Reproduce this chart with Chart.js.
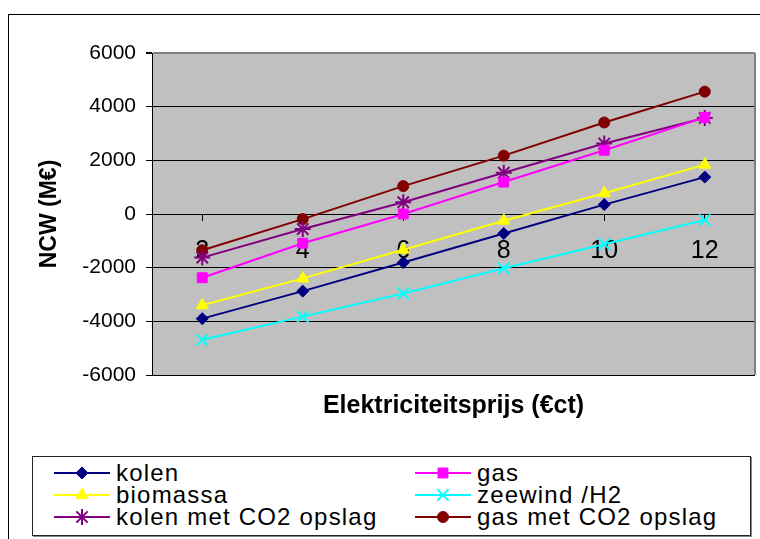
<!DOCTYPE html>
<html>
<head>
<meta charset="utf-8">
<script src="https://cdn.jsdelivr.net/npm/chart.js@4/dist/chart.umd.min.js"></script>
<style>
  body { margin: 0; background: #fff; width: 760px; height: 539px; overflow: hidden; position: relative; font-family: "Liberation Sans", Arial, sans-serif; }
  #frame { position: absolute; left: 8px; top: 14px; width: 800px; height: 600px; border-top: 1px solid #000; border-left: 1px solid #000; }
  #wrap { position: absolute; left: 9px; top: 15px; width: 756px; height: 430px; }
  #legend { position: absolute; left: 32px; top: 456px; width: 719px; height: 80px; border: 1px solid #222; box-shadow: 1px 1px 0 #888; box-sizing: border-box; }
  .item { position: absolute; height: 22px; display: flex; align-items: center; font-size: 24px; letter-spacing: 1.2px; color: #000; white-space: nowrap; }
  .item canvas { margin-right: 6px; }
</style>
</head>
<body>
<div id="frame"></div>
<div id="wrap"><canvas id="chart" width="756" height="430"></canvas></div>
<div id="legend"></div>
<script>
// prijzen op de x-as
const prijzen = ['2', '4', '6', '8', '10', '12'];

// NCW per optie (M€)
const kolen = [-3900, -2875, -1810, -725, 350, 1375];
const gas = [-2375, -1090, 0, 1190, 2375, 3600];
const biomassa = [-3400, -2400, -1330, -250, 775, 1840];
const zeewind = [-4690, -3825, -2960, -2025, -1125, -225];
const kolenCO2 = [-1625, -560, 440, 1540, 2625, 3580];
const gasCO2 = [-1350, -190, 1040, 2175, 3410, 4560];

const yTicks = [-6000, -4000, -2000, 0, 2000, 4000, 6000];

function serie(label, data, kleur, stijl, r, bw) {
    return {
        label: label,
        data: data,
        borderColor: kleur,
        backgroundColor: kleur,
        borderWidth: 2,
        pointStyle: stijl,
        pointRadius: r,
        pointBorderWidth: bw,
        tension: 0
    };
}

// grijze achtergrond van het plotgebied
const plotAchtergrond = {
    id: 'plotAchtergrond',
    beforeDraw(chart) {
        const a = chart.chartArea;
        const ctx = chart.ctx;
        ctx.save();
        ctx.fillStyle = '#C0C0C0';
        ctx.fillRect(a.left, a.top, a.right - a.left, a.bottom - a.top);
        ctx.restore();
    },
    afterDraw(chart) {
        const a = chart.chartArea;
        const ctx = chart.ctx;
        ctx.save();
        ctx.strokeStyle = '#808080';
        ctx.lineWidth = 2;
        ctx.beginPath();
        ctx.moveTo(a.right, a.top);
        ctx.lineTo(a.right, a.bottom);
        ctx.stroke();
        ctx.restore();
    }
};

const font = '"Liberation Sans", Arial, sans-serif';

const chart = new Chart(document.getElementById('chart'), {
    type: 'line',
    data: {
        labels: prijzen,
        datasets: [
            serie('kolen', kolen, '#000080', 'rectRot', 6, 1),
            serie('gas', gas, '#FF00FF', 'rect', 7, 1),
            serie('biomassa', biomassa, '#FFFF00', 'triangle', 7, 1),
            serie('zeewind /H2', zeewind, '#00FFFF', 'crossRot', 8, 2),
            serie('kolen met CO2 opslag', kolenCO2, '#800080', 'star', 8, 2),
            serie('gas met CO2 opslag', gasCO2, '#800000', 'circle', 5.5, 1)
        ]
    },
    options: {
        responsive: false,
        animation: false,
        layout: { padding: { top: 38, right: 0, left: 0, bottom: 0 } },
        plugins: {
            legend: { display: false },
            tooltip: { enabled: false },
            title: {
                display: true,
                text: 'Elektriciteitsprijs (€ct)',
                position: 'bottom',
                fullSize: false,
                color: '#000',
                font: { family: font, size: 25, weight: 'bold' },
                padding: { top: 16, bottom: 24 }
            }
        },
        scales: {
            x: {
                type: 'category',
                offset: true,
                position: { y: 0 },
                grid: { drawOnChartArea: false, tickLength: 6, color: '#000' },
                border: { color: '#000', width: 1 },
                ticks: { color: '#000', font: { family: font, size: 25 }, padding: 16, maxRotation: 0 }
            },
            y: {
                min: -6000,
                max: 6000,
                afterFit(s) { s.width = 143; },
                afterBuildTicks(s) { s.ticks = yTicks.map(v => ({ value: v })); },
                grid: {
                    tickLength: 6,
                    tickColor: '#000',
                    color: c => (c.tick && c.tick.value === 6000) ? '#808080' : '#000',
                    lineWidth: c => (c.tick && c.tick.value === 6000) ? 2 : 1
                },
                border: { color: '#000', width: 1 },
                ticks: {
                    color: '#000',
                    font: { family: font, size: 21 },
                    padding: 10,
                    callback: v => String(v)
                },
                title: {
                    display: true,
                    text: 'NCW (M€)',
                    color: '#000',
                    font: { family: font, size: 23, weight: 'bold' },
                    padding: { top: 27, bottom: 0 }
                }
            }
        }
    },
    plugins: [plotAchtergrond]
});

// legenda in twee kolommen
const legend = document.getElementById('legend');
chart.data.datasets.forEach(function(ds, i) {
    const item = document.createElement('div');
    item.className = 'item';
    item.style.left = (i % 2 === 0 ? 21 : 382) + 'px';
    item.style.top = (5 + Math.floor(i / 2) * 22) + 'px';
    const c = document.createElement('canvas');
    c.width = 56;
    c.height = 22;
    const ctx = c.getContext('2d');
    ctx.strokeStyle = ds.borderColor;
    ctx.lineWidth = 2;
    ctx.beginPath();
    ctx.moveTo(0, 11);
    ctx.lineTo(56, 11);
    ctx.stroke();
    ctx.fillStyle = ds.backgroundColor;
    ctx.strokeStyle = ds.borderColor;
    ctx.lineWidth = ds.pointBorderWidth;
    Chart.helpers.drawPoint(ctx, { pointStyle: ds.pointStyle, radius: ds.pointRadius, rotation: 0, borderWidth: ds.pointBorderWidth }, 28, 11);
    item.appendChild(c);
    const t = document.createElement('span');
    t.textContent = ds.label;
    item.appendChild(t);
    legend.appendChild(item);
});
</script>
</body>
</html>
